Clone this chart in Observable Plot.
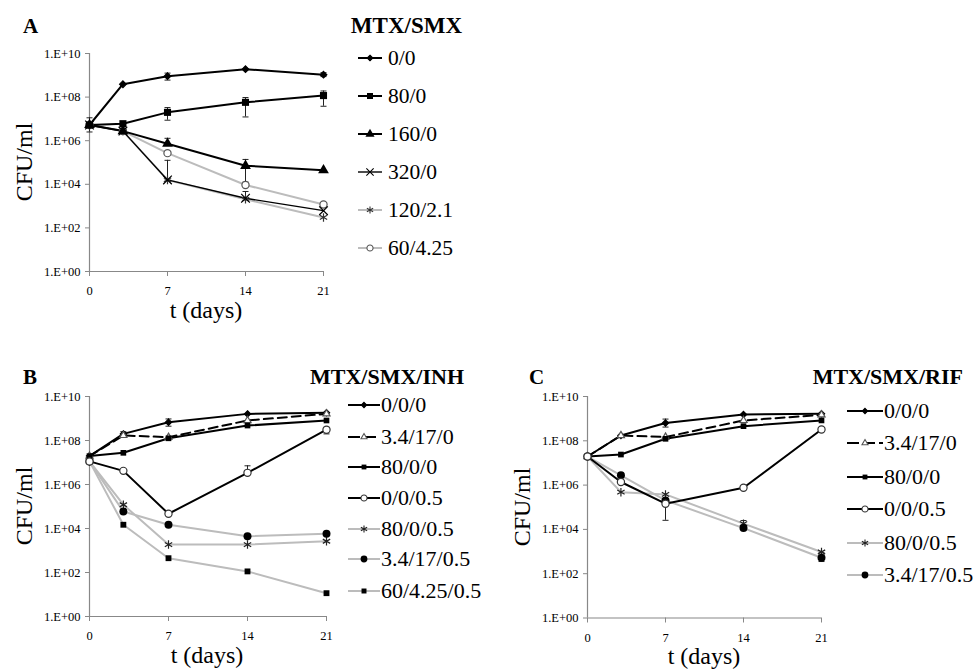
<!DOCTYPE html>
<html>
<head>
<meta charset="utf-8">
<script src="https://cdn.jsdelivr.net/npm/d3@7"></script>
<script src="https://cdn.jsdelivr.net/npm/@observablehq/plot@0.6"></script>
<style>
  html, body { margin: 0; padding: 0; background: #fff; }
  #root { position: relative; width: 974px; height: 669px; background: #fff; font-family: "Liberation Serif", "Times New Roman", serif; overflow: hidden; }
  #root > .panel { position: absolute; }
  #root svg { overflow: visible; }
</style>
</head>
<body>
<div id="root"></div>
<script>
// ---------------- DATA ----------------
const days = [0, 3, 7, 14, 21];
const xTicks = [0, 7, 14, 21];
const yTicks = [1e0, 1e2, 1e4, 1e6, 1e8, 1e10];
const yTickLabels = ["1.E+00", "1.E+02", "1.E+04", "1.E+06", "1.E+08", "1.E+10"];

// Panel A: MTX/SMX  (values are log10 CFU/ml)
const seriesA = ["0/0", "80/0", "160/0", "320/0", "120/2.1", "60/4.25"];
const logCfuA = [
  [6.72, 8.59, 8.96, 9.28, 9.03],
  [6.72, 6.78, 7.30, 7.76, 8.07],
  [6.72, 6.44, 5.86, 4.85, 4.65],
  [6.72, 6.44, 4.20, 3.36, 2.79],
  [6.72, 6.44, 4.20, 3.31, 2.48],
  [6.72, 6.44, 5.43, 3.97, 3.07]
];
const errA = [
  {series: "0/0", day: 0, lo: 6.40, hi: 7.05},
  {series: "0/0", day: 7, lo: 8.78, hi: 9.10},
  {series: "0/0", day: 21, lo: 8.94, hi: 9.12},
  {series: "80/0", day: 7, lo: 6.94, hi: 7.52},
  {series: "80/0", day: 14, lo: 7.09, hi: 7.98},
  {series: "80/0", day: 21, lo: 7.58, hi: 8.28},
  {series: "160/0", day: 7, lo: 5.86, hi: 6.11},
  {series: "160/0", day: 14, lo: 4.10, hi: 5.14},
  {series: "120/2.1", day: 7, lo: 4.20, hi: 5.10},
  {series: "320/0", day: 14, lo: 3.36, hi: 3.67}
];

// Panel B: MTX/SMX/INH
const seriesB = ["0/0/0", "3.4/17/0", "80/0/0", "0/0/0.5", "80/0/0.5", "3.4/17/0.5", "60/4.25/0.5"];
const logCfuB = [
  [7.29, 8.30, 8.83, 9.21, 9.26],
  [7.29, 8.23, 8.15, 8.91, 9.21],
  [7.29, 7.44, 8.10, 8.68, 8.91],
  [7.05, 6.62, 4.67, 6.53, 8.49],
  [7.05, 5.08, 3.27, 3.27, 3.42],
  [7.05, 4.77, 4.17, 3.65, 3.76],
  [7.05, 4.17, 2.65, 2.05, 1.06]
];
const errB = [
  {series: "0/0/0", day: 3, lo: 8.15, hi: 8.40},
  {series: "0/0/0", day: 7, lo: 8.65, hi: 8.98},
  {series: "0/0/0.5", day: 14, lo: 6.53, hi: 6.85},
  {series: "0/0/0.5", day: 21, lo: 8.30, hi: 8.60}
];

// Panel C: MTX/SMX/RIF
const seriesC = ["0/0/0", "3.4/17/0", "80/0/0", "0/0/0.5", "80/0/0.5", "3.4/17/0.5"];
const logCfuC = [
  [7.29, 8.24, 8.80, 9.19, 9.22],
  [7.29, 8.24, 8.17, 8.92, 9.17],
  [7.29, 7.38, 8.09, 8.66, 8.92],
  [7.29, 6.14, 5.16, 5.88, 8.51],
  [7.29, 5.68, 5.58, 4.26, 2.98],
  [7.29, 6.44, 5.31, 4.06, 2.72]
];
const errC = [
  {series: "0/0/0", day: 7, lo: 8.62, hi: 8.98},
  {series: "0/0/0.5", day: 7, lo: 4.41, hi: 5.20},
  {series: "80/0/0.5", day: 14, lo: 4.10, hi: 4.40},
  {series: "3.4/17/0.5", day: 21, lo: 2.55, hi: 2.95}
];

// ---------------- STYLES ----------------
const BLACK = "#000";
const GRAY = "#bcbcbc";
const stylesA = {
  "0/0":     {stroke: BLACK, width: 2,   symbol: "diamond2", fill: BLACK, mstroke: BLACK, r: 3},
  "80/0":    {stroke: BLACK, width: 2,   symbol: "square",   fill: BLACK, mstroke: "none", r: 4},
  "160/0":   {stroke: BLACK, width: 2,   symbol: "triangle", fill: BLACK, mstroke: "none", r: 4},
  "320/0":   {stroke: BLACK, width: 1.4, symbol: "times",    fill: "none", mstroke: BLACK, r: 4},
  "120/2.1": {stroke: GRAY,  width: 2,   symbol: "asterisk", fill: "none", mstroke: "#333", r: 4},
  "60/4.25": {stroke: GRAY,  width: 2,   symbol: "circle",   fill: "#fff", mstroke: "#555", r: 3.6}
};
const stylesBC = {
  "0/0/0":       {stroke: BLACK, width: 2, symbol: "diamond2",  fill: BLACK,  mstroke: BLACK, r: 2.8},
  "3.4/17/0":    {stroke: BLACK, width: 2, dash: "9,5", symbol: "triangle2", fill: "#fff", mstroke: "#555", r: 3.4},
  "80/0/0":      {stroke: BLACK, width: 2, symbol: "square",    fill: BLACK,  mstroke: "none", r: 3.2},
  "0/0/0.5":     {stroke: BLACK, width: 2, symbol: "circle",    fill: "#fff", mstroke: "#333", r: 3.6},
  "80/0/0.5":    {stroke: GRAY,  width: 2, symbol: "asterisk",  fill: "none", mstroke: "#222", r: 4},
  "3.4/17/0.5":  {stroke: GRAY,  width: 2, symbol: "circle",    fill: BLACK,  mstroke: "none", r: 4},
  "60/4.25/0.5": {stroke: GRAY,  width: 2, symbol: "square",    fill: BLACK,  mstroke: "none", r: 3.3}
};

// ---------------- HELPERS ----------------
const capSymbol = {
  draw(ctx, size) {
    const w = Math.sqrt(size / Math.PI);
    ctx.moveTo(-w, 0); ctx.lineTo(w, 0);
  }
};
const tickFmt = d => yTickLabels[yTicks.indexOf(d)];

function buildRows(names, logs) {
  const rows = [];
  names.forEach((name, i) => days.forEach((day, j) => rows.push({series: name, day, cfu: Math.pow(10, logs[i][j])})));
  return rows;
}

function makePanel(cfg) {
  const rows = buildRows(cfg.names, cfg.logs);
  const errRows = cfg.err.map(e => ({series: e.series, day: e.day, lo: Math.pow(10, e.lo), hi: Math.pow(10, e.hi)}));
  const capRows = errRows.flatMap(e => [{day: e.day, v: e.lo}, {day: e.day, v: e.hi}]);
  const order = [...cfg.names].sort((a, b) => (cfg.styles[a].stroke === GRAY ? 0 : 1) - (cfg.styles[b].stroke === GRAY ? 0 : 1));
  const lineMarks = order.map(name => {
    const s = cfg.styles[name];
    return Plot.line(rows.filter(r => r.series === name), {
      x: "day", y: "cfu", stroke: s.stroke, strokeWidth: s.width,
      strokeDasharray: s.dash || null, curve: "linear"
    });
  });
  const dotMarks = order.map(name => {
    const s = cfg.styles[name];
    return Plot.dot(rows.filter(r => r.series === name), {
      x: "day", y: "cfu", symbol: s.symbol, r: s.r, fill: s.fill,
      stroke: s.mstroke, strokeWidth: 1.2
    });
  });
  const chart = Plot.plot({
    width: cfg.width, height: cfg.height,
    marginLeft: cfg.ml, marginRight: cfg.mr, marginTop: cfg.mt, marginBottom: cfg.mb,
    style: {fontFamily: "'Liberation Serif', 'Times New Roman', serif", fontSize: "12.5px", color: "#000", background: "transparent"},
    x: {domain: [0, 21], label: null},
    y: {type: "log", domain: [1, 1e10], label: null},
    marks: [
      Plot.axisX({ticks: xTicks, tickSize: 5, tickPadding: 10, label: null, stroke: "#888", fill: "#000"}),
      Plot.axisY({ticks: yTicks, tickFormat: tickFmt, tickSize: 4, tickPadding: 5, label: null, stroke: "#888", fill: "#000"}),
      Plot.ruleX([0], {stroke: "#888", strokeWidth: 1.2}),
      Plot.ruleY([1], {stroke: "#888", strokeWidth: 1.2}),
      ...lineMarks,
      Plot.ruleX(errRows, {x: "day", y1: "lo", y2: "hi", stroke: "#222", strokeWidth: 1}),
      Plot.dot(capRows, {x: "day", y: "v", symbol: capSymbol, r: 3, fill: "none", stroke: "#222", strokeWidth: 1}),
      ...dotMarks
    ]
  });
  const wrap = document.createElement("div");
  wrap.className = "panel";
  wrap.style.left = cfg.left + "px";
  wrap.style.top = cfg.top + "px";
  wrap.appendChild(chart);
  document.getElementById("root").appendChild(wrap);
}

makePanel({names: seriesA, logs: logCfuA, err: errA, styles: stylesA,
  left: 0, top: 0, width: 340, height: 310, ml: 89, mr: 17, mt: 53, mb: 39});
makePanel({names: seriesB, logs: logCfuB, err: errB, styles: stylesBC,
  left: 0, top: 343, width: 340, height: 310, ml: 89, mr: 14, mt: 53, mb: 37});
makePanel({names: seriesC, logs: logCfuC, err: errC, styles: stylesBC,
  left: 498, top: 343, width: 340, height: 310, ml: 89, mr: 17, mt: 53, mb: 35.5});

// ---------------- TEXT & LEGENDS OVERLAY ----------------
const overlay = d3.select("#root").append("svg")
  .attr("width", 974).attr("height", 669)
  .style("position", "absolute").style("left", 0).style("top", 0)
  .style("font-family", "'Liberation Serif', 'Times New Roman', serif");

const symMap = {
  diamond2: d3.symbolDiamond2, square: d3.symbolSquare, triangle: d3.symbolTriangle,
  triangle2: d3.symbolTriangle2, times: d3.symbolTimes, asterisk: d3.symbolAsterisk, circle: d3.symbolCircle
};

function legend(title, names, styles, cfg) {
  overlay.append("text").attr("x", cfg.titleX).attr("y", cfg.titleY)
    .attr("text-anchor", "end").attr("font-weight", "bold").attr("font-size", cfg.titleSize).text(title);
  names.forEach((name, i) => {
    const s = styles[name];
    const y = cfg.rows[i];
    const g = overlay.append("g");
    g.append("line").attr("x1", cfg.x1).attr("x2", cfg.x2).attr("y1", y).attr("y2", y)
      .attr("stroke", s.stroke).attr("stroke-width", s.width)
      .attr("stroke-dasharray", s.dash ? "12,4" : null);
    const r = s.r * 0.85;
    g.append("path").attr("transform", `translate(${(cfg.x1 + cfg.x2) / 2},${y})`)
      .attr("d", d3.symbol(symMap[s.symbol], r * r * Math.PI)())
      .attr("fill", s.fill).attr("stroke", s.mstroke).attr("stroke-width", 1.1);
    g.append("text").attr("x", cfg.tx).attr("y", y).attr("dy", "0.34em")
      .attr("font-size", cfg.size).text(name);
  });
}

legend("MTX/SMX", seriesA, stylesA, {titleX: 462, titleY: 33, titleSize: 23,
  x1: 358, x2: 382, tx: 388, size: 21.5, rows: [58, 96, 134, 172, 210, 248]});
legend("MTX/SMX/INH", seriesB, stylesBC, {titleX: 464, titleY: 384, titleSize: 22,
  x1: 348, x2: 380, tx: 381, size: 22, rows: [405, 437, 467, 498, 529, 559, 591]});
legend("MTX/SMX/RIF", seriesC, stylesBC, {titleX: 963, titleY: 384, titleSize: 22,
  x1: 847, x2: 883, tx: 884, size: 22, rows: [411, 443, 477, 509, 543, 575]});

// panel letters
[["A", 23, 33], ["B", 23, 384], ["C", 529, 384]].forEach(([t, x, y]) =>
  overlay.append("text").attr("x", x).attr("y", y).attr("font-weight", "bold").attr("font-size", 21).text(t));

// axis titles
[[24, 162], [24, 506], [522, 507]].forEach(([x, y]) =>
  overlay.append("text").attr("transform", `translate(${x},${y}) rotate(-90)`).attr("dy", "0.35em")
    .attr("text-anchor", "middle").attr("font-size", 24).text("CFU/ml"));
[[206, 318], [207, 663], [704, 664]].forEach(([x, y]) =>
  overlay.append("text").attr("x", x).attr("y", y).attr("text-anchor", "middle").attr("font-size", 24).text("t (days)"));
</script>
</body>
</html>
